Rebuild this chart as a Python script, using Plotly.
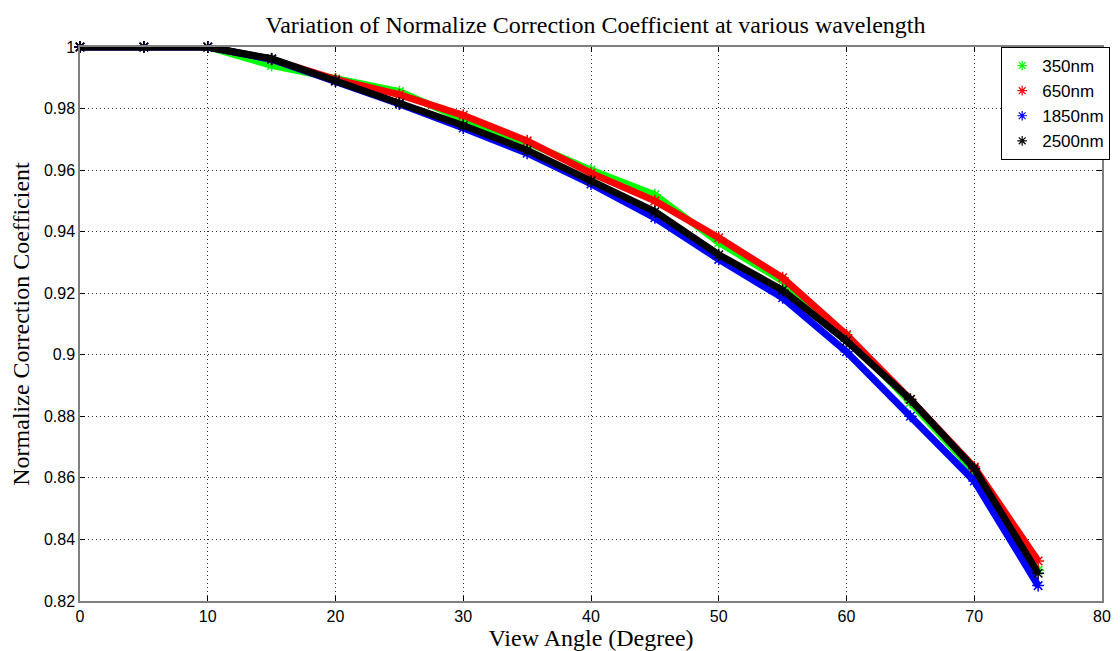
import plotly.graph_objects as go

# View angle knots (degrees)
angles = [0, 5, 10, 15, 20, 25, 30, 35, 40, 45, 50, 55, 60, 65, 70, 75]

# Normalized correction coefficient per wavelength
nm350 = [1.0, 1.0, 1.0, 0.9940, 0.9895, 0.9855, 0.9765, 0.9690, 0.9600, 0.9520,
         0.9365, 0.9240, 0.9060, 0.8845, 0.8620, 0.8300]
nm650 = [1.0, 1.0, 1.0, 0.9960, 0.9895, 0.9845, 0.9778, 0.9695, 0.9590, 0.9500,
         0.9380, 0.9250, 0.9065, 0.8855, 0.8635, 0.8330]
nm1850 = [1.0, 1.0, 1.0, 0.9960, 0.9890, 0.9815, 0.9737, 0.9655, 0.9555, 0.9445,
          0.9310, 0.9185, 0.9010, 0.8800, 0.8590, 0.8250]
nm2500 = [1.0, 1.0, 1.0, 0.9962, 0.9890, 0.9818, 0.9745, 0.9665, 0.9565, 0.9465,
          0.9325, 0.9210, 0.9045, 0.8855, 0.8630, 0.8290]

series_names = ["350nm", "650nm", "1850nm", "2500nm"]
series_values = [nm350, nm650, nm1850, nm2500]
series_colors = ["#00FF00", "#FF0000", "#0000FF", "#000000"]

x_ticks = [0, 10, 20, 30, 40, 50, 60, 70, 80]
y_ticks = [0.82, 0.84, 0.86, 0.88, 0.90, 0.92, 0.94, 0.96, 0.98, 1.0]
y_tick_text = ["0.82", "0.84", "0.86", "0.88", "0.9", "0.92", "0.94", "0.96", "0.98", "1"]

fig = go.Figure()

for name, vals, col in zip(series_names, series_values, series_colors):
    fig.add_trace(go.Scatter(
        x=angles, y=vals, mode="lines+markers", name=name, showlegend=False,
        line=dict(color=col, width=7),
        marker=dict(symbol="asterisk-open", size=10, color=col, line=dict(color=col, width=1.5)),
        cliponaxis=False,
    ))

for name, col in zip(series_names, series_colors):
    fig.add_trace(go.Scatter(
        x=[None], y=[None], mode="markers", name=name,
        marker=dict(symbol="asterisk-open", size=8, color=col, line=dict(color=col, width=1.2)),
    ))

serif = "Liberation Serif, Times New Roman, serif"
sans = "Liberation Sans, Arial, sans-serif"
grid_dash = "1px,3px"

fig.update_layout(
    width=1120, height=651,
    margin=dict(l=80, r=9, t=47, b=48),
    paper_bgcolor="white", plot_bgcolor="white",
    title=dict(text="Variation of Normalize Correction Coefficient at various wavelength",
               font=dict(family=serif, size=24, color="black"),
               x=(80 + 1111) / 2 / 1120, xanchor="center", y=1 - 25 / 651, yanchor="middle"),
    showlegend=True,
    legend=dict(x=1.008, xanchor="right", y=1.0, yanchor="top",
                bgcolor="white", bordercolor="black", borderwidth=1,
                font=dict(family=sans, size=17, color="black"),
                itemwidth=30, tracegroupgap=0),
    xaxis=dict(range=[0, 80], tickvals=x_ticks, ticks="inside", ticklen=5, tickcolor="black",
               showline=True, linecolor="#808080", linewidth=1.5, mirror="ticks",
               showgrid=True, gridcolor="#333333", griddash=grid_dash, gridwidth=1,
               zeroline=False,
               tickfont=dict(family=sans, size=16, color="black"),
               title=dict(text="View Angle (Degree)", font=dict(family=serif, size=24, color="black"),
                          standoff=0)),
    yaxis=dict(range=[0.82, 1.0], tickvals=y_ticks, ticktext=y_tick_text,
               ticks="inside", ticklen=5, tickcolor="black",
               showline=True, linecolor="#808080", linewidth=1.5, mirror="ticks",
               showgrid=True, gridcolor="#333333", griddash=grid_dash, gridwidth=1,
               zeroline=False,
               tickfont=dict(family=sans, size=16, color="black"),
               title=dict(text="Normalize Correction Coefficient", font=dict(family=serif, size=24, color="black"),
                          standoff=8)),
)

fig.write_html("out.html")
